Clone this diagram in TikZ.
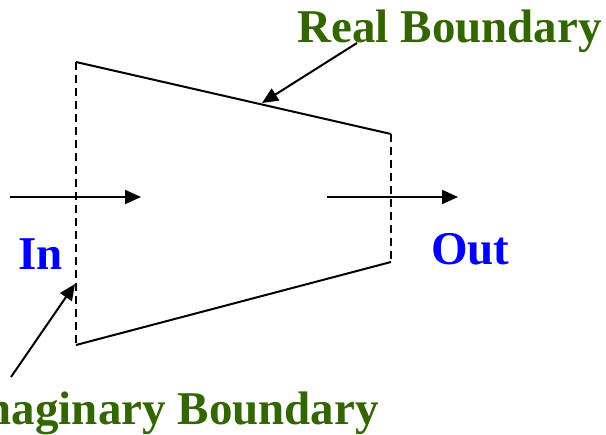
\documentclass[tikz,border=0pt]{standalone}
\usepackage{fontspec}
\setmainfont{Liberation Serif}
\usetikzlibrary{arrows.meta}
\definecolor{lblgreen}{RGB}{51,102,0}
\definecolor{lblblue}{RGB}{0,0,255}
\begin{document}
\begin{tikzpicture}[x=1pt,y=-1pt,
  wall/.style={line width=2pt, line cap=butt},
  imag/.style={line width=2pt, dash pattern=on 8pt off 5pt},
  flow/.style={line width=2pt, -{Triangle[length=16pt,width=14pt]}},
  lbl/.style={inner sep=0pt, font=\fontsize{47}{50}\selectfont\bfseries},
  greenlbl/.style={lbl, text=lblgreen},
  bluelbl/.style={lbl, text=lblblue}]
\useasboundingbox (0,0) rectangle (606,435);
% corners
\coordinate (tl) at (76,62);
\coordinate (tr) at (391,134);
\coordinate (br) at (391,262);
\coordinate (bl) at (76,345);
% real boundary
\draw[wall] (tl) -- (tr);
\draw[wall] (bl) -- (br);
% imaginary boundary
\draw[imag] (tl) -- (bl);
\draw[imag] (tr) -- (br);
% flows
\coordinate (inA) at (10,197);
\coordinate (inB) at (141,197);
\coordinate (outA) at (327,197);
\coordinate (outB) at (458,197);
\draw[flow] (inA) -- (inB);
\draw[flow] (outA) -- (outB);
% labels
\node[greenlbl, anchor=base east] (real) at (602,43) {Real Boundary};
\node[greenlbl, anchor=base east] (imaglbl) at (379,425) {Imaginary Boundary};
\node[bluelbl, anchor=base west] (in) at (18,270) {In};
\node[bluelbl, anchor=base west] (out) at (431,265) {Out};
% pointer arrows
\coordinate (realS) at (357,43);
\coordinate (realT) at (262,103);
\coordinate (imagS) at (11,377);
\coordinate (imagT) at (75,284);
\draw[flow] (realS) -- (realT);
\draw[flow] (imagS) -- (imagT);
\end{tikzpicture}
\end{document}
